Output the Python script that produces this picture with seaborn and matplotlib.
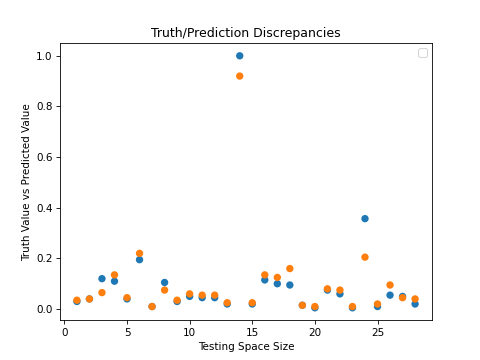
import numpy as np
import pandas as pd
import matplotlib
matplotlib.use('Agg')
import matplotlib.pyplot as plt
import seaborn as sns

# Testing space sizes and the two series
space_size = list(range(1, 29))
truth = [0.03, 0.04, 0.12, 0.11, 0.04, 0.195, 0.01, 0.105, 0.03, 0.05,
         0.045, 0.045, 0.02, 1.0, 0.02, 0.115, 0.10, 0.095, 0.015, 0.005,
         0.075, 0.06, 0.005, 0.357, 0.01, 0.055, 0.05, 0.02]
predicted = [0.035, 0.04, 0.065, 0.135, 0.045, 0.22, 0.01, 0.075, 0.035, 0.06,
             0.055, 0.055, 0.025, 0.92, 0.025, 0.135, 0.125, 0.16, 0.015, 0.01,
             0.08, 0.075, 0.01, 0.205, 0.02, 0.095, 0.045, 0.04]

df = pd.DataFrame({'size': space_size, 'truth': truth, 'predicted': predicted})

# default 6.4x4.8 figure, saved at 75 dpi -> 480x360
fig, ax = plt.subplots(figsize=(6.4, 4.8))
sns.scatterplot(data=df, x='size', y='truth', color='#1f77b4', s=50,
                edgecolor='none', ax=ax)
sns.scatterplot(data=df, x='size', y='predicted', color='#ff7f0e', s=50,
                edgecolor='none', ax=ax)

ax.set_title('Truth/Prediction Discrepancies')
ax.set_xlabel('Testing Space Size')
ax.set_ylabel('Truth Value vs Predicted Value')
# empty legend box, as in the original
ax.legend(handles=[], loc='upper right')

fig.savefig('out.png', dpi=75)
